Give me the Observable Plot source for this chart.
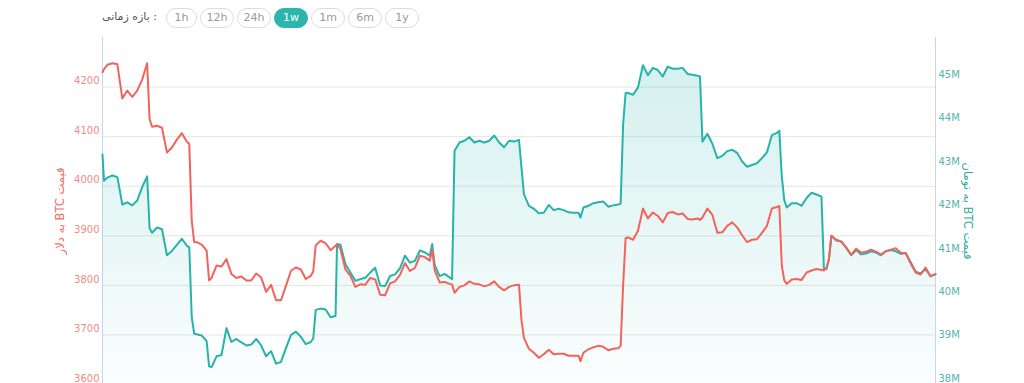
<!DOCTYPE html>
<html><head><meta charset="utf-8">
<script src="https://cdn.jsdelivr.net/npm/d3@7"></script>
<script src="https://cdn.jsdelivr.net/npm/@observablehq/plot@0.6"></script>
<style>
html,body{margin:0;padding:0;background:#fff;}
#bar{position:relative;height:37px;width:1024px;font-family:"DejaVu Sans",sans-serif;}
#bar .lbl{position:absolute;left:102px;top:10px;font-size:11px;color:#555;white-space:nowrap;}
#bar .btns{position:absolute;left:166px;top:8px;display:flex;gap:3px;}
#bar .btn{box-sizing:border-box;width:34px;height:20px;border:1px solid #dcdcdc;border-radius:10px;font-size:11px;color:#999;text-align:center;line-height:18px;}
#bar .btn.first{width:31px;}
#bar .btn.on{background:#2bb5ad;border-color:#2bb5ad;color:#fff;}
</style></head>
<body>
<div id="bar"><span class="lbl">بازه زمانی :</span><div class="btns" id="btns"></div></div>
<div id="chart"></div>
<script>
// ---- data (hours from start of the week) ----
const hours = [0,0.3,1,2,3,4,5,6,7,8,9,9.5,10,11,12,13,14,15,16,17,17.5,18,18.5,19,20,21,21.5,22,23,24,25,26,27,28,29,30,31,32,33,34,35,36,37,38,39,40,41,42,42.5,43,44,45,46,47,47.3,48,49,50,51,52,53,54,55,56,57,58,59,60,61,62,63,64,65,66,66.5,67,68,69,70,70.5,71,72,73,74,75,76,77,78,79,80,81,82,83,84,84.5,85,86,87,88,89,90,91,92,93,94,95,96,96.4,97,98,99,100,101,102,103,104,104.5,105,105.5,106,107,108,109,110,111,112,113,114,115,116,117,118,119,120,120.5,121,122,123,124,125,126,127,128,129,130,131,132,133,134,135,136,136.5,137,137.5,138,139,140,141,142,143,144,145,145.5,146,146.5,147,148,149,150,151,152,153,154,155,156,157,158,159,160,161,162,163,164,165,166,167,168];
const usd = [4230,4236,4245,4248,4246,4177,4193,4180,4193,4215,4248,4135,4120,4122,4118,4068,4078,4094,4107,4090,4085,3930,3887,3887,3882,3870,3810,3815,3840,3838,3853,3823,3815,3818,3810,3810,3824,3816,3787,3801,3770,3770,3799,3829,3836,3832,3813,3819,3828,3881,3890,3885,3871,3880,3882,3873,3832,3819,3797,3802,3801,3815,3812,3781,3780,3804,3808,3821,3845,3829,3835,3860,3857,3850,3873,3830,3806,3807,3803,3802,3785,3797,3800,3808,3803,3802,3798,3801,3808,3797,3790,3797,3800,3801,3730,3694,3672,3664,3654,3661,3670,3661,3662,3662,3658,3658,3658,3647,3664,3671,3675,3678,3676,3669,3672,3673,3678,3800,3895,3897,3892,3910,3955,3935,3947,3940,3927,3946,3948,3943,3945,3934,3933,3935,3932,3937,3955,3942,3906,3907,3920,3927,3917,3901,3887,3892,3893,3906,3920,3955,3958,3960,3840,3810,3803,3812,3813,3811,3826,3830,3833,3831,3830,3835,3853,3900,3892,3888,3876,3862,3874,3866,3868,3872,3868,3862,3869,3872,3875,3866,3865,3844,3826,3822,3836,3818,3823];
const toman = [43.30,42.70,42.77,42.82,42.78,42.15,42.20,42.13,42.24,42.55,42.80,41.60,41.50,41.62,41.58,40.98,41.08,41.22,41.36,41.20,41.16,39.55,39.17,39.16,39.13,39.00,38.42,38.40,38.65,38.68,39.30,38.98,39.05,38.97,38.90,38.92,39.05,38.90,38.65,38.77,38.48,38.52,38.84,39.14,39.22,39.10,38.93,38.98,39.06,39.72,39.75,39.73,39.55,39.58,41.24,41.22,40.77,40.58,40.39,40.43,40.46,40.58,40.69,40.28,40.27,40.50,40.54,40.68,40.97,40.81,40.85,41.09,41.05,40.97,41.24,40.75,40.50,40.55,40.47,40.43,43.39,43.58,43.62,43.70,43.58,43.62,43.58,43.62,43.74,43.58,43.47,43.62,43.60,43.64,43.00,42.39,42.12,42.05,41.95,41.96,42.14,42.02,42.05,42.02,41.97,41.96,41.96,41.85,42.08,42.12,42.18,42.20,42.22,42.10,42.13,42.15,42.17,44.00,44.72,44.72,44.68,44.85,45.36,45.13,45.30,45.25,45.10,45.33,45.28,45.28,45.30,45.16,45.14,45.12,45.10,43.60,43.78,43.55,43.22,43.27,43.38,43.41,43.34,43.14,43.02,43.06,43.10,43.22,43.35,43.75,43.80,43.85,42.80,42.25,42.08,42.18,42.18,42.12,42.30,42.42,42.38,42.33,40.66,40.66,40.87,41.43,41.32,41.30,41.15,40.98,41.10,41.00,41.02,41.07,41.04,40.98,41.07,41.10,41.07,41.01,41.03,40.82,40.60,40.56,40.66,40.50,40.54];

const usdTicks = [3600,3700,3800,3900,4000,4100,4200];
const tomanTicks = [38,39,40,41,42,43,44,45];
const ranges = ["1h","12h","24h","1w","1m","6m","1y"];
const activeRange = "1w";
const leftTitle = "قیمت BTC به دلار";
const rightTitle = "قیمت BTC به تومان";

// ---- toolbar ----
const btns = document.getElementById("btns");
ranges.forEach((r,i) => {
  const b = document.createElement("div");
  b.className = "btn" + (i===0 ? " first" : "") + (r===activeRange ? " on" : "");
  b.textContent = r;
  btns.appendChild(b);
});

// ---- chart ----
const rows = hours.map((h,i) => ({h, usd: usd[i], toman: toman[i]}));
const toUsd = t => 3600 + (t - 38) * 700 / 8; // secondary axis [38M,46M] -> [3600,4300]
const red = "#f4625c", teal = "#26b3ab";
const rtl = s => "\u202B" + s + "\u202C"; // right-to-left embedding for rotated Persian titles

const defsMark = () => {
  const defs = d3.create("svg:defs");
  const g = defs.append("linearGradient").attr("id","tealFade")
    .attr("x1",0).attr("y1",0).attr("x2",0).attr("y2",1);
  g.append("stop").attr("offset","0%").attr("stop-color","#2bb5ad").attr("stop-opacity",0.2);
  g.append("stop").attr("offset","100%").attr("stop-color","#2bb5ad").attr("stop-opacity",0.02);
  return defs.node();
};

const chart = Plot.plot({
  width: 1024, height: 347,
  marginLeft: 102, marginRight: 89, marginTop: 0, marginBottom: 0,
  style: {fontFamily: "DejaVu Sans, sans-serif", overflow: "visible", background: "#fff"},
  x: {domain: [0,168], axis: null},
  y: {domain: [3600,4300], axis: null},
  marks: [
    defsMark,
    Plot.ruleY(usdTicks, {y: d => d, stroke: "#e6e6e6", strokeWidth: 1}),
    Plot.ruleX([0,168], {x: d => d, stroke: "#ccd6eb"}),
    Plot.areaY(rows, {x: "h", y1: () => 3600, y2: d => toUsd(d.toman), fill: "url(#tealFade)"}),
    Plot.lineY(rows, {x: "h", y: d => toUsd(d.toman), stroke: teal, strokeWidth: 2, strokeLinejoin: "round"}),
    Plot.lineY(rows, {x: "h", y: "usd", stroke: red, strokeWidth: 2, strokeLinejoin: "round"}),
    Plot.text(usdTicks, {x: () => 0, y: d => d, dx: -3, dy: -6, textAnchor: "end", text: d => String(d), fill: "#f08a85", fontSize: 10}),
    Plot.text(tomanTicks, {x: () => 168, y: d => toUsd(d), dx: 3, dy: -6, textAnchor: "start", text: d => d + "M", fill: "#52b3ad", fontSize: 10}),
    Plot.text([leftTitle], {x: () => -8.47, y: () => 3950, rotate: -90, text: d => rtl(d), fill: "#f46b65", fontSize: 11.5}),
    Plot.text([rightTitle], {x: () => 174.45, y: () => 3950, rotate: 90, text: d => rtl(d), fill: "#33aaa3", fontSize: 11.5})
  ]
});
document.getElementById("chart").appendChild(chart);
</script>
</body></html>
